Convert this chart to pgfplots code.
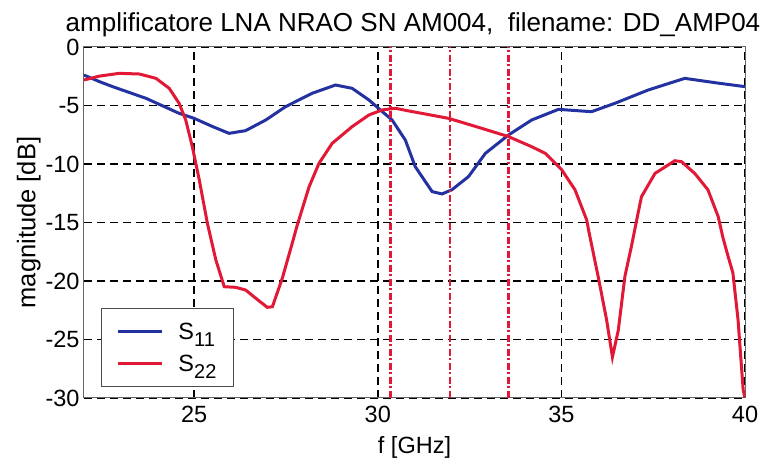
\documentclass[border=0pt]{standalone}
\usepackage{fontspec}
\setmainfont{Liberation Sans}
\usepackage{pgfplots}
\pgfplotsset{compat=1.18}
\definecolor{sblue}{RGB}{35,50,160}
\definecolor{sred}{RGB}{225,25,55}
\newcommand{\fs}{\fontsize{23.5}{26}\selectfont}
\newcommand{\sub}[1]{\raisebox{-0.32em}{\fontsize{20}{22}\selectfont #1}}
\begin{document}
\begin{tikzpicture}[x=1pt,y=1pt]
\path[use as bounding box] (-84,-67) rectangle (679,398);
\begin{axis}[at={(0,0)}, anchor=south west, scale only axis,
  width=661pt, height=351pt,
  xmin=22, xmax=40, ymin=-30, ymax=0,
  xtick={25,30,35,40}, xticklabels={25,30,35,40},
  ytick={-30,-25,-20,-15,-10,-5,0}, yticklabels={-30,-25,-20,-15,-10,-5,0},
  grid=major,
  major grid style={black, dash pattern=on 8pt off 5pt, line width=1.5pt},
  axis line style={black!60, line width=1pt},
  major tick length=0pt,
  tick label style={font=\fs},
  yticklabel style={xshift=-1pt},
  xticklabel style={yshift=-5pt},
  xlabel={f [GHz]}, ylabel={magnitude [dB]},
  xlabel style={font=\fs, yshift=-6pt},
  ylabel style={font=\fontsize{25.5}{28}\selectfont, yshift=-2pt},
  legend style={at={(17/661,11/351)}, anchor=south west, draw=black!70, line width=1pt,
     font=\fs, inner xsep=15pt, inner ysep=12pt, row sep=10pt, cells={anchor=west}},
  legend image code/.code={\draw[#1] (0pt,0pt) -- (44pt,0pt); \path (57pt,0pt);},
  legend cell align=left,
]
\addplot[sblue, line width=3pt] coordinates {
(22,-2.4) (22.42,-2.96) (22.78,-3.39) (23.69,-4.39) (24.59,-5.67) (25.0,-6.1)
(25.5,-6.8) (25.95,-7.38) (26.4,-7.15) (26.95,-6.24) (27.49,-5.1) (28.21,-3.96)
(28.85,-3.25) (29.3,-3.53) (29.76,-4.53) (30.07,-5.38) (30.39,-6.24) (30.75,-7.95)
(31.02,-10.23) (31.48,-12.36) (31.75,-12.56) (32.02,-12.2) (32.47,-11.08) (32.93,-9.09)
(33.56,-7.52) (34.19,-6.24) (34.92,-5.33) (35.82,-5.53) (36.46,-4.81) (37.36,-3.68)
(38.36,-2.68) (39.18,-3.05) (40,-3.39)
};
\addlegendentry{S\sub{11}}
\addplot[sred, line width=3pt] coordinates {
(22,-2.82) (22.42,-2.49) (22.96,-2.25) (23.51,-2.31) (23.96,-2.68) (24.32,-3.53)
(24.59,-4.81) (24.77,-6.24) (24.95,-8.52) (25.14,-11.37) (25.36,-15.07) (25.59,-18.2)
(25.82,-20.49) (26.13,-20.54) (26.4,-20.77) (26.68,-21.48) (26.99,-22.25) (27.13,-22.2)
(27.4,-19.77) (27.67,-16.78) (27.8,-15.3) (28.13,-11.94) (28.4,-9.94) (28.76,-8.23)
(29.3,-6.81) (29.76,-5.81) (30.12,-5.38) (30.48,-5.24) (30.9,-5.5) (31.3,-5.73)
(31.93,-6.1) (32.83,-6.95) (33.56,-7.66) (34.19,-8.52) (34.56,-9.09) (35.01,-10.5)
(35.37,-12.2) (35.69,-14.79) (35.75,-15.8) (36.0,-19.6) (36.23,-23.3) (36.39,-26.5)
(36.55,-24.2) (36.73,-19.6) (36.91,-17.0) (37.05,-14.79) (37.18,-12.8) (37.55,-10.8)
(38.09,-9.72) (38.27,-9.8) (38.63,-10.8) (38.99,-12.2) (39.27,-14.5) (39.4,-16.3)
(39.54,-17.9) (39.67,-19.3) (39.81,-23.3) (39.95,-29.3) (40,-30)
};
\addlegendentry{S\sub{22}}
\addplot[sred, line width=2.5pt, dash pattern=on 7pt off 2.5pt on 2pt off 2.5pt, forget plot] coordinates {(30.35,-30) (30.35,0)};
\addplot[sred, line width=2.5pt, dash pattern=on 7pt off 2.5pt on 2pt off 2.5pt, forget plot] coordinates {(31.96,-30) (31.96,0)};
\addplot[sred, line width=2.5pt, dash pattern=on 7pt off 2.5pt on 2pt off 2.5pt, forget plot] coordinates {(33.56,-30) (33.56,0)};
\end{axis}
\node[anchor=base, font=\fontsize{26}{29}\selectfont] at (329,366) {amplificatore LNA NRAO SN AM004,\ \ filename: DD\_AMP04};
\end{tikzpicture}
\end{document}
